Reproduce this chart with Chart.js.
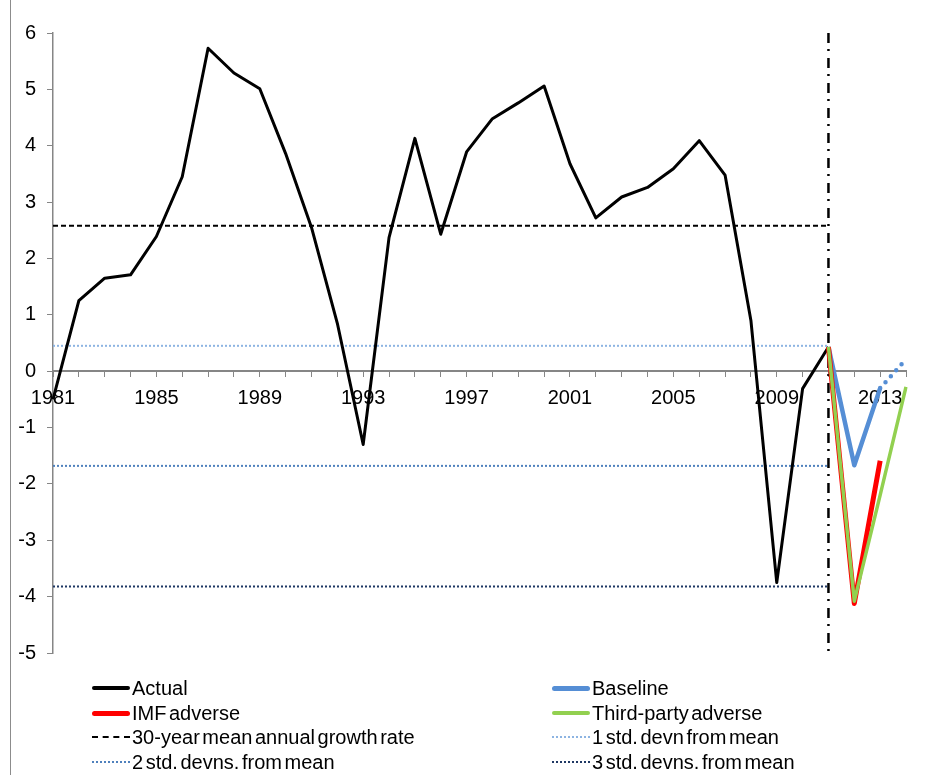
<!DOCTYPE html>
<html>
<head>
<meta charset="utf-8">
<script src="https://cdn.jsdelivr.net/npm/chart.js@4/dist/chart.umd.min.js"></script>
<style>
  html, body { margin: 0; padding: 0; background: #fff; }
  #wrap { position: relative; width: 931px; height: 775px; overflow: hidden; font-family: "Liberation Sans", Arial, sans-serif; }
  #c { position: absolute; left: 0; top: 0; }
  #frame { position: absolute; left: 10px; top: 0; width: 1px; height: 775px; background: #8c8c8c; }
  .item { position: absolute; height: 24px; display: flex; align-items: center; font-size: 20px; color: #000; word-spacing: -3px; white-space: nowrap; }
  .swatch { width: 38px; margin-right: 2px; }
</style>
</head>
<body>
<div id="wrap">
  <canvas id="c" width="931" height="775"></canvas>
  <div id="frame"></div>
  <div id="legend"></div>
</div>
<script>
const YEARS = ['1981','1982','1983','1984','1985','1986','1987','1988','1989','1990',
               '1991','1992','1993','1994','1995','1996','1997','1998','1999','2000',
               '2001','2002','2003','2004','2005','2006','2007','2008','2009','2010',
               '2011','2012','2013','2014'];
const ACTUAL = [-0.5, 1.25, 1.65, 1.71, 2.39, 3.45, 5.73, 5.29, 5.01, 3.86,
                2.55, 0.85, -1.3, 2.37, 4.13, 2.43, 3.89, 4.48, 4.76, 5.06,
                3.68, 2.72, 3.09, 3.26, 3.59, 4.09, 3.48, 0.9, -3.75, -0.31,
                0.43, null, null, null];
const BASELINE_YEARS = ['2011','2012','2013'];
const BASELINE = [0.43, -1.67, -0.3];
const BASELINE_EXT_YEARS = ['2013','2014'];
const BASELINE_EXT = [-0.3, 0.21];
const IMF_YEARS = ['2011','2012','2013'];
const IMF_ADVERSE = [0.43, -4.12, -1.59];
const THIRD_YEARS = ['2011','2012','2013','2014'];
const THIRD_ADVERSE = [0.43, -4.08, -2.2, -0.28];
const REF_SPAN = ['1981','2011'];
const MEAN_30Y = 2.58;
const STD1 = 0.45;
const STD2 = -1.68;
const STD3 = -3.82;
const DIVIDER_YEAR = '2011';
const Y_MIN = -5, Y_MAX = 6;
const LABEL_EVERY = 4;

const pts = (xs, ys) => xs.map((x, i) => ({ x: x, y: ys[i] }));
const flat = (v) => REF_SPAN.map(x => ({ x: x, y: v }));

const LEGEND = [
  { text: 'Actual', color: '#000000', w: 4, style: 'solid', col: 0, row: 0 },
  { text: 'Baseline', color: '#558ED5', w: 5, style: 'solid', col: 1, row: 0 },
  { text: 'IMF adverse', color: '#FF0000', w: 5, style: 'solid', col: 0, row: 1 },
  { text: 'Third-party adverse', color: '#92D050', w: 4, style: 'solid', col: 1, row: 1 },
  { text: '30-year mean annual growth rate', color: '#000000', w: 2, style: 'dashed', col: 0, row: 2 },
  { text: '1 std. devn from mean', color: '#8DB4E2', w: 2, style: 'dotted', col: 1, row: 2 },
  { text: '2 std. devns. from mean', color: '#4F81BD', w: 2, style: 'dotted', col: 0, row: 3 },
  { text: '3 std. devns. from mean', color: '#1F3864', w: 2, style: 'dotted', col: 1, row: 3 }
];

const base = { pointRadius: 0, pointHoverRadius: 0, tension: 0, fill: false, spanGaps: false, borderJoinStyle: 'round' };

const datasets = [
  Object.assign({}, base, { label: 'Third-party adverse', data: pts(THIRD_YEARS, THIRD_ADVERSE), borderColor: '#92D050', borderWidth: 3.5, order: 1 }),
  Object.assign({}, base, { label: 'IMF adverse', data: pts(IMF_YEARS, IMF_ADVERSE), borderColor: '#FF0000', borderWidth: 5, order: 2 }),
  Object.assign({}, base, { label: 'Baseline', data: pts(BASELINE_YEARS, BASELINE), borderColor: '#558ED5', borderWidth: 4.5, order: 3 }),
  Object.assign({}, base, { label: 'Baseline ext', data: pts(BASELINE_EXT_YEARS, BASELINE_EXT), borderColor: '#558ED5', borderWidth: 4.5, borderDash: [0, 8], borderCapStyle: 'round', order: 3 }),
  Object.assign({}, base, { label: 'Actual', data: ACTUAL, borderColor: '#000000', borderWidth: 3, order: 4 }),
  Object.assign({}, base, { label: 'Divider', data: [{ x: DIVIDER_YEAR, y: Y_MAX }, { x: DIVIDER_YEAR, y: Y_MIN }], borderColor: '#000000', borderWidth: 2.5, borderDash: [10, 6, 2, 7], order: 5 }),
  Object.assign({}, base, { label: '30-year mean', data: flat(MEAN_30Y), borderColor: '#000000', borderWidth: 2, borderDash: [5, 3], order: 6 }),
  Object.assign({}, base, { label: '1 std', data: flat(STD1), borderColor: '#8DB4E2', borderWidth: 2, borderDash: [2, 2], order: 7 }),
  Object.assign({}, base, { label: '2 std', data: flat(STD2), borderColor: '#4F81BD', borderWidth: 2, borderDash: [2, 2], order: 7 }),
  Object.assign({}, base, { label: '3 std', data: flat(STD3), borderColor: '#1F3864', borderWidth: 2, borderDash: [2, 2], order: 7 })
];

const FONT = { family: '"Liberation Sans", Arial, sans-serif', size: 20 };

new Chart(document.getElementById('c'), {
  type: 'line',
  data: { labels: YEARS, datasets: datasets },
  options: {
    responsive: false,
    animation: false,
    events: [],
    layout: { padding: { left: 0, right: 25, top: 33, bottom: 122 } },
    plugins: { legend: { display: false }, tooltip: { enabled: false } },
    scales: {
      x: {
        type: 'category',
        position: { y: 0 },
        offset: false,
        grid: { drawOnChartArea: false, drawTicks: true, tickLength: 5, color: '#868686', lineWidth: 1 },
        border: { display: true, color: '#868686', width: 2 },
        ticks: {
          autoSkip: false, maxRotation: 0, minRotation: 0, padding: 10,
          color: '#000', font: FONT,
          callback: function (v, i) { return i % LABEL_EVERY === 0 ? this.getLabelForValue(v) : ''; }
        }
      },
      y: {
        position: 'left',
        min: Y_MIN, max: Y_MAX,
        afterFit: function (s) { s.width = 53; },
        grid: { drawOnChartArea: false, drawTicks: true, tickLength: 6, color: '#868686', lineWidth: 1 },
        border: { display: true, color: '#868686', width: 1.5 },
        ticks: { stepSize: 1, padding: 11, color: '#000', font: FONT }
      }
    }
  }
});

// HTML legend (real text)
const leg = document.getElementById('legend');
const COL_X = [92, 552];
const ROW_Y = [688, 713, 737, 762];
LEGEND.forEach(it => {
  const d = document.createElement('div');
  d.className = 'item';
  d.style.left = COL_X[it.col] + 'px';
  d.style.top = (ROW_Y[it.row] - 12) + 'px';
  const s = document.createElement('div');
  s.className = 'swatch';
  if (it.style === 'solid') {
    s.style.height = it.w + 'px';
    s.style.background = it.color;
    s.style.borderRadius = (it.w / 2) + 'px';
  } else {
    s.style.height = '0px';
    s.style.borderTop = it.w + 'px ' + it.style + ' ' + it.color;
  }
  const t = document.createElement('span');
  t.textContent = it.text;
  d.appendChild(s);
  d.appendChild(t);
  leg.appendChild(d);
});
</script>
</body>
</html>
